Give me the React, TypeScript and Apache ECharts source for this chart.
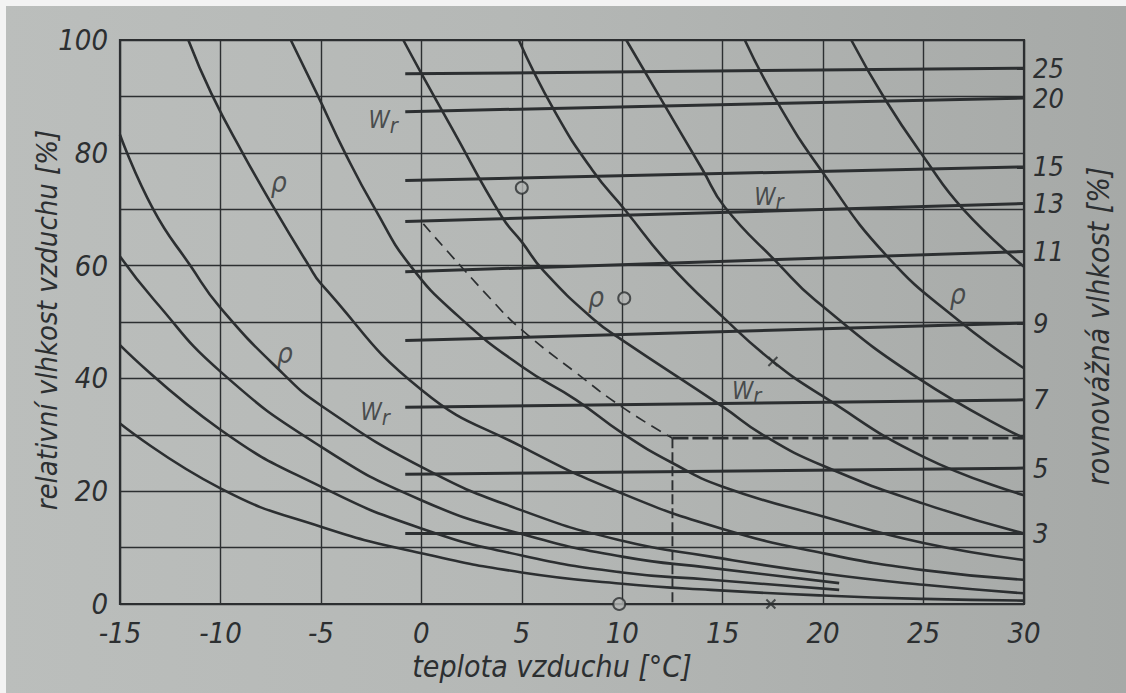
import React, { useEffect, useRef } from "react";
import * as echarts from "echarts";

const INK = "#2c2f31";
const PAPER = "#b4b7b5";
const FONT = '"DejaVu Sans Condensed", "DejaVu Sans", sans-serif';

// Equilibrium moisture content lines w_r [%]: value, RH at the left start and at the right end
const wrLevels = [25, 20, 15, 13, 11, 9, 7, 5, 3];
const wrStartTemp = -0.8;
const wrEndTemp = 30;
const wrStartRh = [94.0, 87.3, 75.1, 67.8, 58.9, 46.7, 34.9, 23.0, 12.5];
const wrEndRh = [95.0, 89.7, 77.5, 71.0, 62.5, 49.8, 36.2, 24.1, 12.5];

// Curves ρ (constant air moisture): [air temperature °C, relative humidity %]
const rho01 = [[-15, 32.0], [-10, 20.5], [-5, 13.7], [0, 9.0], [5, 5.6], [10, 3.6], [14.4, 2.5], [20, 1.5], [25, 0.9], [30, 0.6]];
const rho02 = [[-15, 45.9], [-10, 30.9], [-5, 20.8], [0, 13.4], [5, 8.6], [10, 5.6], [14.4, 4.3], [20.8, 2.5]];
const rho03 = [[-15, 61.6], [-13.3, 53.9], [-10, 41.2], [-5, 27.9], [0, 18.4], [5, 12.4], [10, 8.4], [14.4, 6.4], [20.8, 3.7]];
const rho04 = [[-15, 83.2], [-13.35, 70], [-11.5, 60], [-10, 52.5], [-6.9, 40.9], [-5, 35.2], [0, 24.3], [5, 16.6], [10, 11.2], [14.4, 8.4], [20, 5.4], [25, 3.4], [30, 1.9]];
const rho05 = [[-11.6, 100], [-10.45, 90.5], [-8.9, 80], [-7.3, 70], [-5.6, 60], [-5, 56.8], [0, 38.0], [5, 27.9], [10, 19.6], [15, 13.3], [20, 9.0], [25, 6.0], [30, 4.3]];
const rho06 = [[-6.5, 100], [-5.2, 90.5], [-3.8, 80], [-2.3, 70], [-0.55, 60], [1.85, 51], [5, 42.1], [7.7, 36.2], [10, 30.3], [12.5, 25], [15, 20.8], [20, 15.5], [25, 10.8], [30, 7.8]];
const rho07 = [[-0.9, 100], [0, 94.1], [1.5, 84.5], [4, 68.7], [5, 64.2], [6.1, 59], [8.6, 50.4], [10, 46.8], [15, 35], [17, 30], [20, 24.5], [25, 17.8], [30, 12.5]];
const rho08 = [[4.85, 100], [6.6, 87.6], [8.5, 77], [10.2, 69.6], [12.3, 60.4], [15, 50.9], [17.5, 43], [20, 36.8], [25, 26.1], [30, 19.3]];
const rho09 = [[10.2, 100], [11.85, 90], [14, 77], [15.1, 70.4], [17.75, 60.4], [19.6, 53.9], [24.75, 40], [30, 29.4]];
const rho10 = [[16.1, 100], [17.75, 88.8], [20, 76.4], [23.2, 61.6], [26.7, 50.4], [30, 41.8]];
const rho11 = [[21.4, 100], [23.1, 89.4], [25, 79.3], [27, 69.9], [30, 59.8]];
const rhoCurves = [rho01, rho02, rho03, rho04, rho05, rho06, rho07, rho08, rho09, rho10, rho11];

// Worked example: dashed ρ path, then the read-off lines
const exampleCurve = [[0.1, 67.4], [3.5, 53.9], [5, 48.6], [7.7, 41], [10, 34.9], [12.5, 29.4]];
const exampleTemp = 12.5;
const exampleRh = 29.4;

// Point marks
const circlePoints = [[5, 73.8], [10.1, 54.2], [9.85, 0]];
const crossPoints = [[17.5, 43], [17.4, 0]];

// Curve labels
const rhoLabelPoints = [[-7.1, 74.8], [-6.8, 44.5], [8.7, 54.4], [26.7, 54.8]];
const wrLabelPoints = [[-1.9, 85.8], [-2.3, 34.0], [17.3, 72.2], [16.2, 37.8]];

const textBase = { color: INK, fontFamily: FONT, fontStyle: "italic" as const };

function buildOption() {
  const series: any[] = [];

  rhoCurves.forEach((pts, i) => {
    series.push({
      type: "line",
      name: "rho" + (i + 1),
      data: pts,
      smooth: 0.5,
      showSymbol: false,
      symbol: "none",
      lineStyle: { color: INK, width: 2.6 },
      z: 3,
    });
  });

  wrLevels.forEach((lvl, i) => {
    series.push({
      type: "line",
      name: "wr" + lvl,
      data: [
        [wrStartTemp, wrStartRh[i]],
        [wrEndTemp, wrEndRh[i]],
      ],
      showSymbol: false,
      symbol: "none",
      lineStyle: { color: INK, width: 3 },
      endLabel: {
        show: true,
        formatter: String(lvl),
        distance: 9,
        ...textBase,
        fontSize: 27,
      },
      z: 4,
    });
  });

  series.push({
    type: "line",
    name: "example",
    data: exampleCurve,
    smooth: 0.5,
    showSymbol: false,
    symbol: "none",
    lineStyle: { color: INK, width: 1.7, type: [11, 7] },
    z: 3,
  });
  series.push({
    type: "line",
    name: "exampleLevel",
    data: [
      [exampleTemp, exampleRh],
      [30, exampleRh],
    ],
    showSymbol: false,
    symbol: "none",
    lineStyle: { color: INK, width: 2.8, type: [16, 4] },
    z: 3,
  });
  series.push({
    type: "line",
    name: "exampleTemp",
    data: [
      [exampleTemp, exampleRh],
      [exampleTemp, 0],
    ],
    showSymbol: false,
    symbol: "none",
    lineStyle: { color: INK, width: 1.9, type: [10, 4] },
    z: 3,
  });

  series.push({
    type: "scatter",
    name: "circles",
    data: circlePoints,
    symbol: "circle",
    symbolSize: 12,
    clip: false,
    itemStyle: { color: PAPER, borderColor: INK, borderWidth: 2 },
    z: 6,
  });
  series.push({
    type: "scatter",
    name: "crosses",
    data: crossPoints,
    symbol: "path://M0,0L10,10M10,0L0,10",
    symbolSize: 9,
    clip: false,
    itemStyle: { color: "transparent", borderColor: INK, borderWidth: 2 },
    z: 6,
  });

  series.push({
    type: "scatter",
    name: "rhoLabels",
    data: rhoLabelPoints,
    symbolSize: 0,
    label: {
      show: true,
      position: "inside",
      formatter: "ρ",
      ...textBase,
      fontSize: 28,
    },
    z: 7,
  });
  series.push({
    type: "scatter",
    name: "wrLabels",
    data: wrLabelPoints,
    symbolSize: 0,
    label: {
      show: true,
      position: "inside",
      formatter: "{w|W}{r|r}",
      rich: {
        w: { ...textBase, fontSize: 24 },
        r: { ...textBase, fontSize: 22, padding: [10, 0, 0, 0] },
      },
    },
    z: 7,
  });

  return {
    animation: false,
    backgroundColor: "transparent",
    grid: {
      left: 120,
      right: 102,
      top: 40,
      bottom: 89,
      show: true,
      borderColor: INK,
      borderWidth: 2.2,
      backgroundColor: "transparent",
    },
    xAxis: {
      type: "value",
      min: -15,
      max: 30,
      interval: 5,
      axisLine: { show: false },
      axisTick: { show: false },
      splitLine: { show: true, lineStyle: { color: INK, width: 1.4 } },
      axisLabel: { ...textBase, fontSize: 29, margin: 14 },
    },
    yAxis: {
      type: "value",
      min: 0,
      max: 100,
      interval: 10,
      axisLine: { show: false },
      axisTick: { show: false },
      splitLine: { show: true, lineStyle: { color: INK, width: 1.4 } },
      axisLabel: {
        ...textBase,
        fontSize: 29,
        margin: 12,
        formatter: (v: number) => (v % 20 === 0 ? String(v) : ""),
      },
    },
    graphic: [
      { type: "rect", shape: { x: 0, y: 0, width: 1126, height: 6 }, style: { fill: "#f3f3f3" }, z: 100 },
      { type: "rect", shape: { x: 0, y: 0, width: 6, height: 693 }, style: { fill: "#f3f3f3" }, z: 100 },
      {
        type: "text",
        x: 552,
        y: 666,
        style: {
          text: "teplota vzduchu [°C]",
          fill: INK,
          fontFamily: FONT,
          fontStyle: "italic",
          fontSize: 30,
          align: "center",
          verticalAlign: "middle",
        },
      },
      {
        type: "text",
        x: 47,
        y: 320,
        rotation: Math.PI / 2,
        style: {
          text: "relativní vlhkost vzduchu [%]",
          fill: INK,
          fontFamily: FONT,
          fontStyle: "italic",
          fontSize: 29,
          align: "center",
          verticalAlign: "middle",
        },
      },
      {
        type: "text",
        x: 1098,
        y: 326,
        rotation: Math.PI / 2,
        style: {
          text: "rovnovážná vlhkost [%]",
          fill: INK,
          fontFamily: FONT,
          fontStyle: "italic",
          fontSize: 30,
          align: "center",
          verticalAlign: "middle",
        },
      },
    ],
    series,
  };
}

export default function App() {
  const ref = useRef<HTMLDivElement>(null);
  useEffect(() => {
    if (!ref.current) return;
    const chart = echarts.init(ref.current, null, { renderer: "svg" });
    chart.setOption(buildOption() as any);
    return () => chart.dispose();
  }, []);
  return (
    <div
      ref={ref}
      style={{
        position: "fixed",
        left: 0,
        top: 0,
        width: 1126,
        height: 693,
        background: "linear-gradient(90deg, #bbbebc 0%, #b5b8b6 45%, #a6a9a7 100%)",
      }}
    />
  );
}
